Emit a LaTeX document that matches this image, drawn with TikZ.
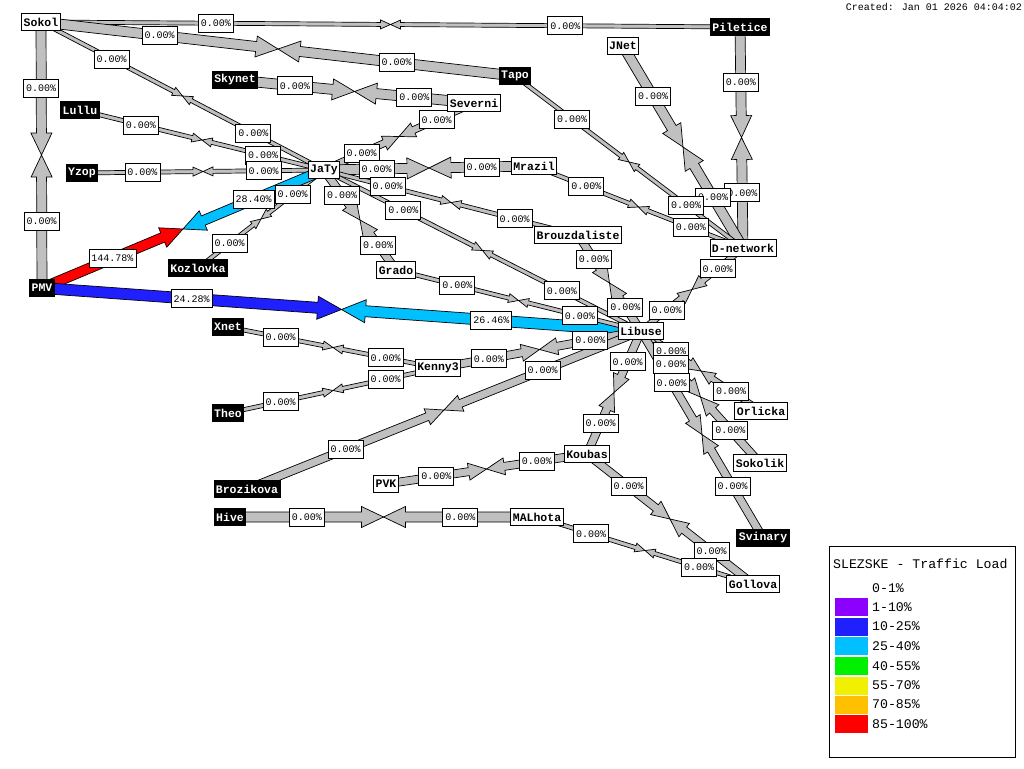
\documentclass[tikz,border=0pt]{standalone}
\usepackage{fontspec}
\usetikzlibrary{calc}
\newfontfamily\monofam{Liberation Mono}
\newcommand\nfont{\monofam\bfseries\fontsize{11.5pt}{12pt}\selectfont}
\newcommand\pfont{\monofam\fontsize{10pt}{11pt}\selectfont}
\newcommand\lfont{\monofam\fontsize{13.2pt}{14pt}\selectfont}
\definecolor{lgray}{RGB}{192,192,192}
\definecolor{wmpurple}{RGB}{140,0,255}
\definecolor{wmblue}{RGB}{32,32,255}
\definecolor{wmcyan}{RGB}{0,192,255}
\definecolor{wmgreen}{RGB}{0,240,0}
\definecolor{wmyellow}{RGB}{240,240,0}
\definecolor{wmorange}{RGB}{255,192,0}
\definecolor{wmred}{RGB}{255,0,0}
\pgfdeclarelayer{bg}
\pgfdeclarelayer{mid}
\pgfsetlayers{bg,mid,main}
\tikzset{
  wn/.style={draw=black, fill=white, text=black, line width=0.8pt, font=\nfont, inner xsep=2pt, inner ysep=0pt, minimum height=17pt},
  bn/.style={draw=black, fill=black, text=white, line width=0.8pt, font=\nfont, inner xsep=2pt, inner ysep=0pt, minimum height=17pt},
  pct/.style={draw=black, fill=white, text=black, line width=0.8pt, font=\pfont, inner xsep=2.5pt, inner ysep=0pt, minimum height=18pt},
  arrowpoly/.style={draw=black, line width=0.7pt, line join=miter},
  swatch/.style={minimum width=33pt, minimum height=18pt, inner sep=0pt, draw=none},
  legtext/.style={font=\lfont, anchor=west, inner sep=0pt},
}
\newcommand\halfarrow[4]{%
  \pgfmathsetlengthmacro\hwa{#3*0.5pt}%
  \pgfmathsetlengthmacro\hwb{#3*1pt+0.5pt}%
  \pgfmathsetlengthmacro\hln{#3*2pt+2pt}%
  \coordinate (hH) at ($(#2)!\hln!(#1)$);
  \filldraw[arrowpoly, fill=#4] ($(#1)!\hwa!90:(#2)$) -- ($(hH)!\hwa!90:(#2)$) -- ($(hH)!\hwb!90:(#2)$) -- (#2) -- ($(hH)!\hwb!-90:(#2)$) -- ($(hH)!\hwa!-90:(#2)$) -- ($(#1)!\hwa!-90:(#2)$) -- cycle;
}
\newcommand\lk[8]{%
  \coordinate (#8m) at ($(#1.center)!0.5!(#2.center)$);
  \begin{pgfonlayer}{bg}
    \halfarrow{#1.center}{#8m}{#3}{#4}
    \halfarrow{#2.center}{#8m}{#3}{#5}
  \end{pgfonlayer}
  \begin{pgfonlayer}{mid}
    \node[pct] (#8a) at ($(#1.center)!0.25!(#2.center)$) {#6};
    \node[pct] (#8b) at ($(#1.center)!0.75!(#2.center)$) {#7};
  \end{pgfonlayer}
}
\newcommand\zl{0.00\%}
\begin{document}
\begin{tikzpicture}[x=1pt, y=-1pt]
\begin{pgfonlayer}{bg}
\fill[white] (0,0) rectangle (1024,768);
\end{pgfonlayer}
\useasboundingbox (0,0) rectangle (1024,768);
% nodes
\node[wn] (Sokol) at (41,22) {Sokol};
\node[bn] (Piletice) at (740,27) {Piletice};
\node[wn] (JNet) at (623,46) {JNet};
\node[bn] (Skynet) at (235,80) {Skynet};
\node[bn] (Tapo) at (515,76) {Tapo};
\node[wn] (Severni) at (474,103) {Severni};
\node[bn] (Lullu) at (80,110) {Lullu};
\node[bn] (Yzop) at (82,173) {Yzop};
\node[wn] (JaTy) at (324,170) {JaTy};
\node[wn] (Mrazil) at (534,166) {Mrazil};
\node[wn] (Dnet) at (743,248) {D-network};
\node[wn] (Brouzd) at (578,235) {Brouzdaliste};
\node[bn] (Kozlovka) at (198,268) {Kozlovka};
\node[bn] (PMV) at (42,288) {PMV};
\node[wn] (Grado) at (396,270) {Grado};
\node[wn] (Libuse) at (641,331) {Libuse};
\node[bn] (Xnet) at (228,327) {Xnet};
\node[wn] (Kenny) at (438,368) {Kenny3};
\node[bn] (Theo) at (228,413) {Theo};
\node[wn] (Orlicka) at (761,411) {Orlicka};
\node[wn] (Sokolik) at (760,463) {Sokolik};
\node[wn] (Koubas) at (587,454) {Koubas};
\node[wn] (PVK) at (386,484) {PVK};
\node[bn] (Brozikova) at (247,489) {Brozikova};
\node[bn] (Hive) at (230,517) {Hive};
\node[wn] (MALhota) at (537,517) {MALhota};
\node[bn] (Svinary) at (763,538) {Svinary};
\node[wn] (Gollova) at (753,584) {Gollova};
% links
\lk{Sokol}{Piletice}{4}{lgray}{lgray}{\zl}{\zl}{La}
\lk{Sokol}{Tapo}{10}{lgray}{lgray}{\zl}{\zl}{Lb}
\lk{Sokol}{JaTy}{4}{lgray}{lgray}{\zl}{\zl}{Lc}
\lk{Sokol}{PMV}{10}{lgray}{lgray}{\zl}{\zl}{Ld}
\lk{Piletice}{Dnet}{10}{lgray}{lgray}{\zl}{\zl}{Le}
\lk{JNet}{Dnet}{10}{lgray}{lgray}{\zl}{\zl}{Lf}
\lk{Tapo}{Dnet}{4}{lgray}{lgray}{\zl}{\zl}{Lg}
\lk{Mrazil}{Dnet}{4}{lgray}{lgray}{\zl}{\zl}{Lh}
\lk{Dnet}{Libuse}{6}{lgray}{lgray}{\zl}{\zl}{Li}
\lk{Skynet}{Severni}{10}{lgray}{lgray}{\zl}{\zl}{Lj}
\lk{Severni}{JaTy}{7}{lgray}{lgray}{\zl}{\zl}{Lk}
\lk{Lullu}{JaTy}{4}{lgray}{lgray}{\zl}{\zl}{Ll}
\lk{Yzop}{JaTy}{4}{lgray}{lgray}{\zl}{\zl}{Lm}
\lk{JaTy}{Mrazil}{10}{lgray}{lgray}{\zl}{\zl}{Ln}
\lk{JaTy}{Brouzd}{4}{lgray}{lgray}{\zl}{\zl}{Lo}
\lk{JaTy}{Libuse}{4}{lgray}{lgray}{\zl}{\zl}{Lp}
\lk{JaTy}{Grado}{8}{lgray}{lgray}{\zl}{\zl}{Lq}
\lk{JaTy}{Kozlovka}{4}{lgray}{lgray}{\zl}{\zl}{Lr}
\lk{PMV}{JaTy}{10}{wmred}{wmcyan}{144.78\%}{28.40\%}{Ls}
\lk{PMV}{Libuse}{11}{wmblue}{wmcyan}{24.28\%}{26.46\%}{Lt}
\lk{Grado}{Libuse}{4}{lgray}{lgray}{\zl}{\zl}{Lu}
\lk{Brouzd}{Libuse}{8}{lgray}{lgray}{\zl}{\zl}{Lv}
\lk{Xnet}{Kenny}{4}{lgray}{lgray}{\zl}{\zl}{Lw}
\lk{Theo}{Kenny}{4}{lgray}{lgray}{\zl}{\zl}{Lx}
\lk{Kenny}{Libuse}{8}{lgray}{lgray}{\zl}{\zl}{Ly}
\lk{Brozikova}{Libuse}{8}{lgray}{lgray}{\zl}{\zl}{Lz}
\lk{Libuse}{Koubas}{8}{lgray}{lgray}{\zl}{\zl}{LA}
\lk{PVK}{Koubas}{8}{lgray}{lgray}{\zl}{\zl}{LB}
\lk{Koubas}{Gollova}{8}{lgray}{lgray}{\zl}{\zl}{LC}
\lk{MALhota}{Gollova}{4}{lgray}{lgray}{\zl}{\zl}{LD}
\lk{Hive}{MALhota}{10}{lgray}{lgray}{\zl}{\zl}{LE}
\lk{Libuse}{Orlicka}{6}{lgray}{lgray}{\zl}{\zl}{LF}
\lk{Libuse}{Sokolik}{8}{lgray}{lgray}{\zl}{\zl}{LG}
\lk{Libuse}{Svinary}{8}{lgray}{lgray}{\zl}{\zl}{LH}
% timestamp
\node[font=\pfont, anchor=east, inner sep=0pt] (stamp) at (1022,7) {Created: Jan 01 2026 04:04:02};
% legend
\node[draw=black, line width=0.8pt, fill=white, anchor=north west, minimum width=186pt, minimum height=211pt, inner sep=0pt] (legend) at (829,546) {};
\node[legtext] (legtitle) at (833,564) {SLEZSKE - Traffic Load};
\node[legtext] (t0) at (872,588) {0-1\%};
\node[swatch, fill=wmpurple] (s1) at (851.5,607) {};
\node[legtext] (t1) at (872,607) {1-10\%};
\node[swatch, fill=wmblue] (s2) at (851.5,626.5) {};
\node[legtext] (t2) at (872,626.5) {10-25\%};
\node[swatch, fill=wmcyan] (s3) at (851.5,646) {};
\node[legtext] (t3) at (872,646) {25-40\%};
\node[swatch, fill=wmgreen] (s4) at (851.5,666) {};
\node[legtext] (t4) at (872,666) {40-55\%};
\node[swatch, fill=wmyellow] (s5) at (851.5,685.5) {};
\node[legtext] (t5) at (872,685.5) {55-70\%};
\node[swatch, fill=wmorange] (s6) at (851.5,704.5) {};
\node[legtext] (t6) at (872,704.5) {70-85\%};
\node[swatch, fill=wmred] (s7) at (851.5,724) {};
\node[legtext] (t7) at (872,724) {85-100\%};
\end{tikzpicture}
\end{document}
